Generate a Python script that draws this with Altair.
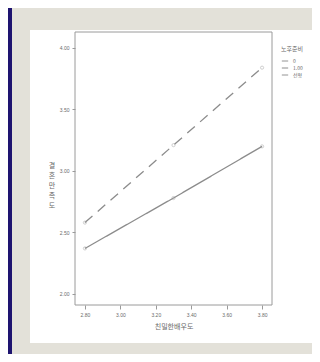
import altair as alt
import pandas as pd

# data
x_vals = [2.80, 3.30, 3.80]
low_vals = [2.37, 2.78, 3.20]     # solid line
high_vals = [2.58, 3.21, 3.84]    # dashed line
groups = ["0", "1.00"]
legend_labels = ["0", "1.00", "선형"]
y_ticks = [2.00, 2.50, 3.00, 3.50, 4.00]
x_ticks = [2.80, 3.00, 3.20, 3.40, 3.60, 3.80]
y_title = "결혼만족도"
x_title = "친밀한배우도"

rows = []
for g, vals in zip(groups, [low_vals, high_vals]):
    for x, y in zip(x_vals, vals):
        rows.append({"x": x, "y": y, "g": g})
df = pd.DataFrame(rows)

W, H = 197, 273
LINE = "#8c8c8c"
TXT = "#6a6a6a"
FONT = "Noto Sans CJK KR"

one = alt.Data(values=[{}])

beige = alt.Chart(one).mark_rect(color="#e3e1d9").encode(
    x=alt.value(-63), x2=alt.value(W + 60), y=alt.value(-24), y2=alt.value(H + 60))
white = alt.Chart(one).mark_rect(color="#ffffff").encode(
    x=alt.value(-45), x2=alt.value(W + 40), y=alt.value(-2), y2=alt.value(H + 38))
frame = alt.Chart(one).mark_rect(fill="#ffffff", stroke="#9a9a9a", strokeWidth=1).encode(
    x=alt.value(0), x2=alt.value(W), y=alt.value(0), y2=alt.value(H))

ytitle = alt.Chart(alt.Data(values=[{"t": "\n".join(y_title)}])).mark_text(
    lineBreak="\n", fontSize=7, color=TXT, font=FONT, lineHeight=10,
    align="center", baseline="middle").encode(
    x=alt.value(-23), y=alt.value(H / 2 - 3), text="t:N")

xs = alt.Scale(domain=[2.744, 3.856], nice=False, zero=False)
ys = alt.Scale(domain=[1.91, 4.13], nice=False, zero=False)

xax = alt.Axis(values=x_ticks, format=".2f", title=x_title, grid=False,
               domain=False, tickColor="#9a9a9a", tickSize=4, labelFontSize=5,
               labelColor=TXT, titleFontSize=7, titleColor=TXT, titleFontWeight="normal",
               labelPadding=3, titlePadding=5, zindex=2, titleFont=FONT,
               labelOverlap=False, labelSeparation=0, labelFlush=False, tickCount=6)
yax = alt.Axis(values=y_ticks, format=".2f", title=None,
               grid=False, domain=False, tickColor="#9a9a9a", tickSize=3,
               labelFontSize=5, labelColor=TXT, labelPadding=3, zindex=2,
               labelOverlap=False)

dash = alt.Scale(domain=legend_labels, range=[[1, 0], [10, 7], [1, 0]])

lines = alt.Chart(df).mark_line(color=LINE, strokeWidth=1.3).encode(
    x=alt.X("x:Q", scale=xs, axis=xax),
    y=alt.Y("y:Q", scale=ys, axis=yax),
    strokeDash=alt.StrokeDash("g:N", scale=dash, legend=alt.Legend(
        title="노후준비", orient="none", legendX=206, legendY=14,
        titleFontSize=6, titleColor=TXT, titleFontWeight="normal",
        labelFontSize=5, labelColor=TXT, symbolSize=40, symbolStrokeColor=LINE,
        symbolStrokeWidth=1, symbolType="stroke", rowPadding=0, zindex=2,
        titleFont=FONT, labelFont=FONT)),
    detail="g:N",
)
pts = alt.Chart(df).mark_point(color="#a0a0a0", size=10, strokeWidth=0.7).encode(
    x=alt.X("x:Q", scale=xs, axis=xax), y=alt.Y("y:Q", scale=ys, axis=yax))

chart = alt.layer(beige, white, frame, ytitle, lines, pts).properties(
    width=W, height=H,
    autosize=alt.AutoSizeParams(type="none"),
    padding={"left": 67, "top": 24, "right": 40, "bottom": 49},
    background="#1e1470",
).configure_view(stroke=None)

chart.save("out.html", embed_options={"renderer": "svg", "actions": False})
